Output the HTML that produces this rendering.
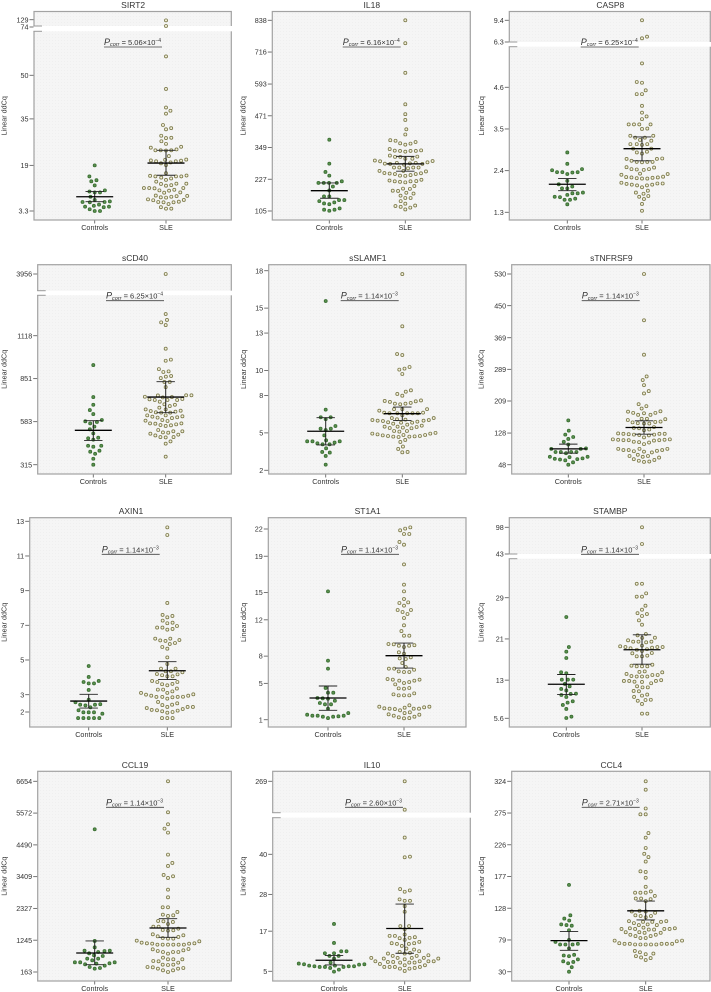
<!DOCTYPE html>
<html lang="en">
<head>
<meta charset="utf-8">
<title>Linear ddCq beeswarm panels</title>
<style>
html,body{margin:0;padding:0;background:#fff;}
svg{display:block;}
text{font-family:"Liberation Sans",sans-serif;fill:#333;}
</style>
</head>
<body>
<svg id="figure" xmlns="http://www.w3.org/2000/svg" width="711" height="992" viewBox="0 0 711 992">
<defs>
<pattern id="plot-texture" width="3" height="3" patternUnits="userSpaceOnUse">
<rect width="3" height="3" fill="#f5f5f5"/>
<rect x="1" y="1" width="1" height="1" fill="#efefef"/>
</pattern>
</defs>
</svg>
<script>
// ---------- chart data ----------
const groupNames = ["Controls", "SLE"];

const sirt2Ticks = [3.3, 19, 35, 50, 74, 129];
const sirt2Controls = [19,15.2,13.9,13.5,12.1,10.4,9.7,9.7,10,8.2,7.1,6.4,6.3,6.6,5.1,4.6,3.9,3.3,3.3,4.8,4.8,5.5,6.4];
const sirt2Sle = [124,81.5,56.5,45.3,38.9,37.8,36.8,32.9,31.8,31.4,29.2,28.4,28.5,27.3,26.4,25.4,24.5,25.1,24.1,24.2,24.2,24.2,22.2,21,20.6,20.4,20.4,20.7,20.9,20,19.7,19.1,16.3,15.2,15.2,15.5,15.2,15.4,14.8,14.5,14,13.4,12.6,12.7,12.2,12.7,12,11.1,10.4,10.3,11.2,10.6,11.2,11.2,9.7,9.6,8.6,8.5,8,8.4,7.9,7.3,7,6.5,6.3,4.6,4.1,4.1,5.7,6.3,6.4,7.1,8.2];
const sirt2Summary = [[8.2,6.5,10],[19.8,15.6,24.2]];
const sirt2P = ["5.06","\u22124"];

const il18Ticks = [105,227,349,471,593,716,838];
const il18Controls = [379,287,255,241,219,213,213,213,213,199,184,161,161,147,143,138,147,134,131,115,110,106,110];
const il18Sle = [838,750,636,515,477,455,419,399,375,377,370,364,360,365,338,336,336,336,337,343,333,313,306,314,313,318,306,290,290,287,283,288,299,292,297,286,296,286,272,272,269,272,272,257,251,249,247,243,259,240,241,247,250,259,222,219,215,217,219,220,225,183,190,201,182,191,175,172,164,155,155,143,133,126,121,111,118,124];
const il18Summary = [[183,154,213],[286,258,315]];
const il18P = ["6.16","\u22124"];

const casp8Ticks = [1.3,2.4,3.5,4.6,6.3,9.4];
const casp8Controls = [2.88,2.58,2.44,2.41,2.36,2.36,2.31,2.35,2.36,2.13,1.98,1.93,1.93,2.04,1.82,1.8,1.76,1.7,1.71,1.8,1.66,1.63,1.63,1.51];
const casp8Sle = [9.4,7.06,6.82,5.23,4.74,4.72,4.52,4.42,4.42,4.11,3.93,3.83,3.76,3.62,3.62,3.62,3.62,3.51,3.5,3.32,3.32,3.27,3.27,3.21,3.19,3.1,3.1,3.1,3.08,2.98,2.98,2.9,2.88,2.85,2.72,2.71,2.71,2.63,2.63,2.66,2.62,2.63,2.49,2.48,2.44,2.42,2.43,2.44,2.32,2.29,2.22,2.22,2.31,2.24,2.2,2.23,2.19,2.21,2.19,2.06,2.06,2.08,2.05,2.01,2.01,1.96,2.03,2.03,1.87,1.79,1.71,1.65,1.73,1.82,1.52,1.34];
const casp8Summary = [[2.04,1.87,2.19],[2.98,2.66,3.29]];
const casp8P = ["6.25","\u22124"];

const scd40Ticks = [315,583,851,1118,3956];
const scd40Controls = [935,736,688,655,630,593,572,581,585,552,535,510,483,479,471,433,427,433,402,396,383,352,315];
const scd40Sle = [3956,1253,1216,1201,1184,1037,969,962,910,892,896,867,854,863,830,830,798,747,738,724,718,718,747,746,734,736,718,722,707,691,680,670,688,659,659,649,645,639,639,641,651,622,614,610,605,616,608,622,593,587,589,572,566,560,556,572,570,562,531,523,514,508,497,487,485,487,502,516,523,460,446,365];
const scd40Summary = [[529,466,589],[736,639,832]];
const scd40P = ["6.25","\u22124"];

const sslamf1Ticks = [2,5,8,10,13,15,18];
const sslamf1Controls = [15.57,6.86,6.25,6.25,6.1,5.55,5.34,5.34,5.23,4.8,4.4,4.32,4.22,4.08,4.08,4.16,4.32,4.32,3.76,3.47,3.42,3.15,2.45];
const sslamf1Sle = [17.73,13.54,11.24,11.32,10.28,10.15,10.07,9.72,8.41,8.3,7.98,8.12,7.6,7.56,7.4,7.34,7.34,7.29,7.48,7.53,6.9,6.78,6.57,6.57,6.57,6.57,6.62,6.57,6.62,6.9,6.9,6.41,6.19,6.19,6.03,5.85,5.74,6.09,5.95,5.9,5.98,6.06,5.98,6.03,5.82,5.82,5.66,5.5,5.42,5.37,5.5,5.58,5.47,5.39,5.15,5,4.94,4.8,4.75,4.72,4.7,4.83,5.1,5.15,4.75,4.67,4.88,4.94,4.83,4.7,4.43,4.27,3.71,3.9,3.44,3.47];
const sslamf1Summary = [[5.13,4.03,6.22],[6.54,6,7.07]];
const sslamf1P = ["1.14","\u22123"];

const stnfrsf9Ticks = [48,128,209,289,369,450,530];
const stnfrsf9Controls = [160,134,118,113,124,106,99,89,88,88,80,80,80,80,77,68,67,61,59,64,62,63,68,54,48];
const stnfrsf9Sle = [530,413,326,271,262,249,234,228,201,196,190,183,179,174,179,174,178,182,164,161,155,152,164,157,152,156,163,153,143,141,140,137,135,126,124,123,122,125,126,124,126,127,117,112,111,110,106,105,104,109,100,110,110,112,111,88,88,85,85,79,81,82,85,83,88,73,68,62,58,70,56,55,60,66,70];
const stnfrsf9Summary = [[88,77,100],[142,125,159]];
const stnfrsf9P = ["1.14","\u22123"];

const axin1Ticks = [2,3,5,7,9,11,13];
const axin1Controls = [4.65,4.02,3.73,3.65,3.65,3.79,3.27,2.71,2.56,2.38,2.42,2.42,2.45,2.27,2.1,1.98,1.98,1.98,1.9,1.65,1.65,1.65,1.65,1.65];
const axin1Sle = [12.65,12.21,8.29,7.6,7.54,7.46,7.27,7.15,7.12,6.96,6.87,6.87,6.79,6.75,6.23,6.23,6.13,6.1,6.15,5.98,5.92,5.75,5.65,5.15,4.77,4.5,4.5,4.35,4.35,4.29,4.19,4.17,4.06,4.06,4.12,3.79,3.73,3.6,3.62,3.73,3.54,3.35,3.29,3.19,3.1,3.02,3.29,3.1,2.94,2.87,2.87,2.77,3,2.58,2.85,2.87,2.88,2.94,2.5,2.4,2.29,2.42,2.29,2.12,2.08,2,1.96,2.04,2.17,2.1,2.23,2.29,1.65,1.65,1.65];
const axin1Summary = [[2.63,2.23,3.02],[4.38,3.87,4.9]];
const axin1P = ["1.14","\u22123"];

const st1a1Ticks = [1,5,8,12,15,19,22];
const st1a1Controls = [15.13,7.5,6.62,4.49,3.97,3.97,3.31,3.35,3.09,2.84,2.69,2.69,2.21,3.39,1.55,1.44,1.37,1.33,1.18,1.33,1.44,1.44,1.73];
const st1a1Sle = [22.18,22.04,21.85,21.45,21.45,20.57,20.27,18.1,15.87,15.13,14.29,13.92,13.85,13.56,13.08,13.08,12.86,12.64,12.2,11.39,10.76,10.25,10.25,9.33,9.3,9.2,9.15,9.15,9,8.42,8.27,7.87,7.75,7.68,7.24,6.8,6.62,6.5,6.62,6.32,6.25,6.25,5.41,5.41,5.3,5.04,5.3,4.89,5.15,5.48,4.49,4.45,4.41,3.9,3.79,3.68,3.68,3.68,2.43,2.32,2.21,2.21,2.43,2.03,2.17,2.21,2.25,2.36,2.58,1.59,1.44,1.26,1.18,1.15,1.33,1.55,1.73,1.81];
const st1a1Summary = [[3.39,2.03,4.71],[8.05,6.69,9.44]];
const st1a1P = ["1.14","\u22123"];

const stambpTicks = [5.6,13,21,29,43,98];
const stambpControls = [25.25,19.43,18.53,17.3,14.52,14.33,13.1,13.1,13.1,12.26,11.8,11.29,11,10.38,10.12,10.32,9.74,8.9,8.64,8.19,7.41,5.92,5.66];
const stambpSle = [98,63.6,31.7,31.7,29.84,29.2,29.2,27.45,26.67,26,25.83,25.45,24.6,23.76,21.95,21.7,21.24,21.2,20.73,20.47,20.47,20.47,20.34,19.7,19.56,19.3,19.17,19.43,19.43,19.43,19,18.66,18.9,18.27,18.2,17.75,17.62,17.62,15.68,15.68,15.68,15.8,16,14.7,14.6,14.52,14.2,14,14,13.8,13.7,13.7,13,12.65,12.4,12.7,12.84,13.7,12.84,12.84,11.6,10.84,10,9.2,8.38,9,9.15,9.74,10.2,10.9,11.6,11.8,6.5,6.5];
const stambpSummary = [[12.2,10.2,14.1],[18.9,16.1,21.8]];
const stambpP = ["1.14","\u22123"];

const ccl19Ticks = [163,1245,2327,3409,4490,5572,6654];
const ccl19Controls = [5021,1219,1003,878,889,889,844,799,731,708,617,560,617,492,492,424,458,447,492,379,333,276,299];
const ccl19Sle = [6654,5600,5191,5043,4907,4158,3875,3772,3466,3420,3364,2966,2705,2365,2365,2206,2115,2092,2070,1900,1888,1866,1797,1707,1707,1638,1593,1582,1570,1445,1412,1355,1320,1298,1298,1377,1207,1162,1230,1128,1128,1139,1139,1094,1094,1094,1094,1094,1094,946,901,878,935,844,844,787,844,651,594,537,480,594,594,526,413,401,333,299,276,220,163,220,276,322,413];
const ccl19Summary = [[810,413,1219],[1661,1343,1979]];
const ccl19P = ["1.14","\u22123"];

const il10Ticks = [5,17,28,40,269];
const il10Controls = [19.16,13.47,10.98,10.98,10.4,10.4,9.6,9.6,8.8,7.6,7.1,7.1,7.3,7,6.7,6.7,6.5,6.5,6.3,6.3,6.3,6.5,6,5.5,4.9];
const il10Sle = [269,98,45,39.1,39.3,29.6,28.8,29.2,26.5,26.1,26.1,24.5,22.8,18.5,18.5,17.6,16,15.6,15,15.6,15.2,14.9,14.4,13.8,13.4,13.2,13.2,13.4,12.6,11.8,11.5,11,10.8,10.5,10.3,10.3,9.8,9.6,9.6,9,9,9,9,8.8,8.8,8.6,8,8,8,8,7.8,7.8,7.6,7.6,7.6,7.2,6.8,6.3,6.3,6.3,5.8,5.1,5.8,6,6.3,6.8];
const il10Summary = [[8.3,6.9,9.7],[17.8,10.4,25.1]];
const il10P = ["2.60","\u22123"];

const ccl4Ticks = [30,79,128,177,226,275,324];
const ccl4Controls = [164,117,112,109,103,102,101,94,79,76,73,72,72,72,66,56,55,54,49,45,43,46,37,30];
const ccl4Sle = [324,311,282,273,273,244,237,221,212,207,200,185,184,175,161,154,152,152,152,147,143,143,142,139,124,123,123,121,116,116,114,117,108,108,107,107,107,105,103,102,102,98,96,96,97,97,96,96,95,95,91,91,90,87,85,90,87,85,82,82,78,78,77,74,73,73,73,73,73,72,72,72,72,72,60,62,58,57,54,52,51,48];
const ccl4Summary = [[78,63,92],[124,110,139]];
const ccl4P = ["2.71","\u22123"];

// ---------- panel layout (pixels only, values come from the arrays above) ----------
const panels = [
 {key:"sirt2", title:"SIRT2", ticks:sirt2Ticks, controls:sirt2Controls, sle:sirt2Sle, summary:sirt2Summary, p:sirt2P,
  box:[34,11.5,231.3,220], cx:[94.7,166], yTitle:4, pos:[104,47],
  lower:{d:[3.3,50],r:[211,75.3]}, upper:{d:[74,129],r:[27,19.7]}, gap:[26,31.3]},
 {key:"il18", title:"IL18", ticks:il18Ticks, controls:il18Controls, sle:il18Sle, summary:il18Summary, p:il18P,
  box:[272.3,11.5,470.3,220], cx:[329.3,405.3], yTitle:243, pos:[342.7,47],
  lower:{d:[105,838],r:[211,20.3]}},
 {key:"casp8", title:"CASP8", ticks:casp8Ticks, controls:casp8Controls, sle:casp8Sle, summary:casp8Summary, p:casp8P,
  box:[509.3,11.5,710.3,220], cx:[567.3,642], yTitle:481.7, pos:[580.7,47],
  lower:{d:[1.3,4.6],r:[212.3,87.3]}, upper:{d:[6.3,9.4],r:[42,20.3]}, gap:[42,46.7]},
 {key:"scd40", title:"sCD40", ticks:scd40Ticks, controls:scd40Controls, sle:scd40Sle, summary:scd40Summary, p:scd40P,
  box:[37.7,264.7,231.3,474], cx:[93.3,165.7], yTitle:4, pos:[106,300.7],
  lower:{d:[315,1118],r:[464.7,335.7]}, upper:{d:[2000,3956],r:[290.7,274]}, gap:[290.7,295.3]},
 {key:"sslamf1", title:"sSLAMF1", ticks:sslamf1Ticks, controls:sslamf1Controls, sle:sslamf1Sle, summary:sslamf1Summary, p:sslamf1P,
  box:[268.7,264.7,466,474], cx:[325.7,402.3], yTitle:243.3, pos:[340.7,300.7],
  lower:{d:[2,18],r:[470.3,270.7]}},
 {key:"stnfrsf9", title:"sTNFRSF9", ticks:stnfrsf9Ticks, controls:stnfrsf9Controls, sle:stnfrsf9Sle, summary:stnfrsf9Summary, p:stnfrsf9P,
  box:[511.7,264.7,710,474], cx:[568.3,644], yTitle:481, pos:[581.7,300.7],
  lower:{d:[48,530],r:[464.7,274]}},
 {key:"axin1", title:"AXIN1", ticks:axin1Ticks, controls:axin1Controls, sle:axin1Sle, summary:axin1Summary, p:axin1P,
  box:[29.7,517.7,231.3,727], cx:[88.7,167.3], yTitle:4, pos:[101.7,554.3],
  lower:{d:[2,13],r:[712,521.3]}},
 {key:"st1a1", title:"ST1A1", ticks:st1a1Ticks, controls:st1a1Controls, sle:st1a1Sle, summary:st1a1Summary, p:st1a1P,
  box:[268.3,517.7,466,727], cx:[328,404], yTitle:243.3, pos:[341,554.3],
  lower:{d:[1,22],r:[719.7,529]}},
 {key:"stambp", title:"STAMBP", ticks:stambpTicks, controls:stambpControls, sle:stambpSle, summary:stambpSummary, p:stambpP,
  box:[509.3,517.7,710.3,727], cx:[566.3,642], yTitle:481, pos:[581,554.3],
  lower:{d:[5.6,29],r:[718.3,597.7]}, upper:{d:[43,98],r:[554,527.3]}, gap:[554,558.7]},
 {key:"ccl19", title:"CCL19", ticks:ccl19Ticks, controls:ccl19Controls, sle:ccl19Sle, summary:ccl19Summary, p:ccl19P,
  box:[37.7,771.3,231.3,981], cx:[94.7,168], yTitle:4, pos:[106,807.3],
  lower:{d:[163,6654],r:[972,781.3]}},
 {key:"il10", title:"IL10", ticks:il10Ticks, controls:il10Controls, sle:il10Sle, summary:il10Summary, p:il10P,
  box:[272.7,771.3,470.3,981], cx:[334,404.7], yTitle:243, pos:[345,807.3],
  lower:{d:[5,40],r:[971.3,854.3]}, upper:{d:[80,269],r:[812.7,781.3]}, gap:[812.7,817.7]},
 {key:"ccl4", title:"CCL4", ticks:ccl4Ticks, controls:ccl4Controls, sle:ccl4Sle, summary:ccl4Summary, p:ccl4P,
  box:[511.7,771.3,710,981], cx:[569,645.7], yTitle:481.7, pos:[581.7,807.3],
  lower:{d:[30,324],r:[971.7,781.3]}}
];

// ---------- drawing ----------
const NS = "http://www.w3.org/2000/svg";
const root = document.getElementById("figure");
const SPACING = 5.3;

function make(parent, tag, attrs, text) {
  const n = document.createElementNS(NS, tag);
  for (const k in attrs) n.setAttribute(k, attrs[k]);
  if (text !== undefined) n.textContent = text;
  parent.appendChild(n);
  return n;
}

function linear(seg, v) {
  return seg.r[0] + (v - seg.d[0]) * (seg.r[1] - seg.r[0]) / (seg.d[1] - seg.d[0]);
}

function axisY(panel, v) {
  if (panel.upper && v >= panel.upper.d[0]) return linear(panel.upper, v);
  return linear(panel.lower, v);
}

// beeswarm: ascending values, each placed at the free offset nearest the centre
function swarm(values, toY) {
  const sorted = values.slice().sort(function (a, b) { return a - b; });
  const placed = [];
  let side = 1;
  sorted.forEach(function (v) {
    const y = toY(v);
    const near = placed.filter(function (p) { return Math.abs(p.y - y) < SPACING; });
    const candidates = [0];
    near.forEach(function (p) {
      const w = Math.sqrt(SPACING * SPACING - (p.y - y) * (p.y - y));
      candidates.push(p.dx + w, p.dx - w);
    });
    const free = candidates.filter(function (c) {
      return near.every(function (p) {
        const dx = p.dx - c, dy = p.y - y;
        return dx * dx + dy * dy >= SPACING * SPACING - 0.01;
      });
    });
    free.sort(function (a, b) {
      const diff = Math.abs(a) - Math.abs(b);
      if (Math.abs(diff) > 0.01) return diff;
      return side * (b - a);
    });
    const dx = free[0];
    if (dx !== 0) side = dx > 0 ? -1 : 1;
    placed.push({ y: y, dx: dx, v: v });
  });
  return placed;
}

panels.forEach(function (panel) {
  const left = panel.box[0], top = panel.box[1], right = panel.box[2], bottom = panel.box[3];
  const g = make(root, "g", {});
  
  

  const title = make(g, "text", { x: (left + right) / 2 + 0.5, y: top - 3.5, "text-anchor": "middle", "font-size": 8.5 }, panel.title);
  
  

  const plot = make(g, "rect", { x: left, y: top, width: right - left, height: bottom - top, fill: "url(#plot-texture)", stroke: "#a2a2a2", "stroke-width": 1.2 });
  
  

  if (panel.gap) {
    const band = make(g, "rect", { x: left - 1, y: panel.gap[0], width: right - left + 3.5, height: panel.gap[1] - panel.gap[0], fill: "#ffffff" });
    
    
    panel.gap.forEach(function (gy) {
      const edge = make(g, "line", { x1: left - 0.6, x2: left + 8, y1: gy, y2: gy, stroke: "#9a9a9a", "stroke-width": 1 });
      
      
    });
  }

  panel.ticks.forEach(function (t) {
    const y = axisY(panel, t);
    const tick = make(g, "line", { x1: left - 4.5, x2: left - 0.5, y1: y, y2: y, stroke: "#666", "stroke-width": 0.9 });
    
    
    const label = make(g, "text", { x: left - 5.5, y: y + 2.6, "text-anchor": "end", "font-size": 7.2 }, String(t));
    
    
  });

  const midY = (top + bottom) / 2;
  const yTitle = make(g, "text", { x: panel.yTitle + 2.5, y: midY, "text-anchor": "middle", "font-size": 7.2, transform: "rotate(-90 " + (panel.yTitle + 2.5) + " " + midY + ")" }, "Linear ddCq");
  
  

  groupNames.forEach(function (name, i) {
    const cx = panel.cx[i];
    const xTick = make(g, "line", { x1: cx, x2: cx, y1: bottom + 0.5, y2: bottom + 3.5, stroke: "#666", "stroke-width": 0.9 });
    
    
    const xLabel = make(g, "text", { x: cx, y: bottom + 10.2, "text-anchor": "middle", "font-size": 7.25 }, name);
    
    

    const values = i === 0 ? panel.controls : panel.sle;
    const fill = i === 0 ? "#5b9150" : "#f4f1dc";
    const stroke = i === 0 ? "#3b6f33" : "#7d7b4c";
    swarm(values, function (v) { return axisY(panel, v); }).forEach(function (p) {
      const dot = make(g, "circle", { cx: cx + p.dx, cy: p.y, r: 1.5, fill: fill, stroke: stroke, "stroke-width": 0.85 });
      
      
    });

    const s = panel.summary[i];
    const yMean = axisY(panel, s[0]), yLo = axisY(panel, s[1]), yHi = axisY(panel, s[2]);
    const stem = make(g, "line", { x1: cx, x2: cx, y1: yHi, y2: yLo, stroke: "#222", "stroke-width": 1 });
    
    
    [yLo, yHi].forEach(function (yc) {
      const cap = make(g, "line", { x1: cx - 9.2, x2: cx + 9.2, y1: yc, y2: yc, stroke: "#222", "stroke-width": 0.9 });
      
      
    });
    const mean = make(g, "line", { x1: cx - 18.5, x2: cx + 18.5, y1: yMean, y2: yMean, stroke: "#000", "stroke-width": 1.3 });
    
    
  });

  const px = panel.pos[0], py = panel.pos[1];
  const pText = make(g, "text", { x: px, y: py - 2 });
  
  
  make(pText, "tspan", { "font-size": 9, "font-style": "italic" }, "P");
  make(pText, "tspan", { "font-size": 5.5, "font-style": "italic", dy: 1.2 }, "corr");
  make(pText, "tspan", { "font-size": 7.5, dy: -1.2 }, " = " + panel.p[0] + "\u00d710");
  make(pText, "tspan", { "font-size": 5, dy: -3 }, panel.p[1]);
  const underline = make(g, "line", { x1: px, x2: px + 58, y1: py, y2: py, stroke: "#444", "stroke-width": 0.8 });
  
  
});
</script>
</body>
</html>
